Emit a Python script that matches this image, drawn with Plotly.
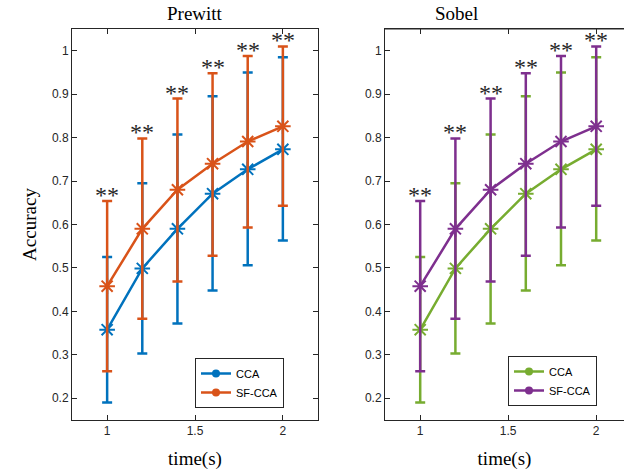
import plotly.graph_objects as go

t = [1.0, 1.2, 1.4, 1.6, 1.8, 2.0]
cca_mean = [0.358, 0.499, 0.590, 0.671, 0.727, 0.773]
cca_up = [0.525, 0.695, 0.807, 0.895, 0.950, 0.985]
cca_lo = [0.190, 0.303, 0.372, 0.448, 0.506, 0.563]
sf_mean = [0.458, 0.590, 0.680, 0.740, 0.791, 0.826]
sf_up = [0.654, 0.798, 0.890, 0.948, 0.988, 1.010]
sf_lo = [0.262, 0.383, 0.469, 0.528, 0.593, 0.643]
panels = ["Prewitt", "Sobel"]
series_names = ["CCA", "SF-CCA"]
colors = [["#0072BD", "#D95319"], ["#77AC30", "#7E2F8E"]]
yticks = [0.2, 0.3, 0.4, 0.5, 0.6, 0.7, 0.8, 0.9, 1.0]
ytick_text = ["0.2", "0.3", "0.4", "0.5", "0.6", "0.7", "0.8", "0.9", "1"]
xticks = [1, 1.5, 2]
xtick_text = ["1", "1.5", "2"]

W, H = 624, 474
fig = go.Figure()

series = [(cca_mean, cca_up, cca_lo), (sf_mean, sf_up, sf_lo)]
for p in range(2):
    xa = "x" if p == 0 else "x2"
    ya = "y" if p == 0 else "y2"
    for s, (m, up, lo) in enumerate(series):
        c = colors[p][s]
        fig.add_trace(go.Scatter(
            x=t, y=m, xaxis=xa, yaxis=ya, mode="lines+markers",
            line=dict(color=c, width=2.5),
            marker=dict(symbol="asterisk-open", size=13, line=dict(color=c, width=2)),
            error_y=dict(type="data", symmetric=False,
                         array=[u - v for u, v in zip(up, m)],
                         arrayminus=[v - l for v, l in zip(m, lo)],
                         color=c, thickness=2.5, width=5),
            showlegend=False))
    for xv, uv in zip(t, sf_up):
        fig.add_annotation(x=xv, y=uv, xref=xa, yref=ya, text="**", showarrow=False,
                           yanchor="bottom", yshift=-9,
                           font=dict(family="Liberation Serif", size=24, color="#262626"))
    # legend entries
    leg = "legend" if p == 0 else "legend2"
    for s in range(2):
        c = colors[p][s]
        fig.add_trace(go.Scatter(
            x=[None], y=[None], xaxis=xa, yaxis=ya, mode="lines+markers",
            name=series_names[s], legend=leg,
            line=dict(color=c, width=2.5),
            marker=dict(symbol="circle", size=8, color=c),
            showlegend=True))

axis_common = dict(showline=True, linecolor="#262626", linewidth=1, mirror="ticks",
                   ticks="inside", ticklen=5, tickcolor="#262626", showgrid=False,
                   zeroline=False,
                   tickfont=dict(family="Liberation Sans", size=12, color="#262626"))

xd1 = [72 / W, 318 / W]
xd2 = [385 / W, 1.0]
yd = [1 - 420 / H, 1 - 29 / H]
title_font = dict(family="Liberation Serif", size=19, color="black")
leg_common = dict(xanchor="left", yanchor="top", bgcolor="white", bordercolor="#262626",
                  borderwidth=1, font=dict(family="Liberation Sans", size=11, color="black"),
                  tracegroupgap=0, itemwidth=30)

fig.update_layout(
    width=W, height=H, margin=dict(l=0, r=0, t=0, b=0),
    paper_bgcolor="white", plot_bgcolor="white",
    xaxis=dict(domain=xd1, range=[0.8, 2.2], tickvals=xticks, ticktext=xtick_text,
               anchor="y", title=dict(text="time(s)", font=title_font, standoff=14),
               **axis_common),
    yaxis=dict(domain=yd, range=[0.15, 1.05], tickvals=yticks, ticktext=ytick_text,
               anchor="x", title=dict(text="Accuracy", font=title_font, standoff=10),
               **axis_common),
    xaxis2=dict(domain=xd2, range=[0.8, 0.8 + (624 - 385) / 176.0], tickvals=xticks,
                ticktext=xtick_text, anchor="y2",
                title=dict(text="time(s)", font=title_font, standoff=14),
                **axis_common),
    yaxis2=dict(domain=yd, range=[0.15, 1.05], tickvals=yticks, ticktext=ytick_text,
                anchor="x2", **{k: v for k, v in axis_common.items() if k != "mirror"}),
    legend=dict(x=195 / W, y=1 - 358 / H, **leg_common),
    legend2=dict(x=508 / W, y=1 - 356 / H, **leg_common),
)
for p, name in enumerate(panels):
    fig.add_annotation(x=[195 / W, 457 / W][p], y=1 - 13 / H, xref="paper", yref="paper",
                       text=name, showarrow=False, font=title_font,
                       xanchor="center", yanchor="middle")
fig.add_shape(type="line", xref="paper", yref="paper", x0=xd2[0], x1=1.0, y0=yd[1], y1=yd[1],
              line=dict(color="#262626", width=1))

fig.write_html("out.html")
